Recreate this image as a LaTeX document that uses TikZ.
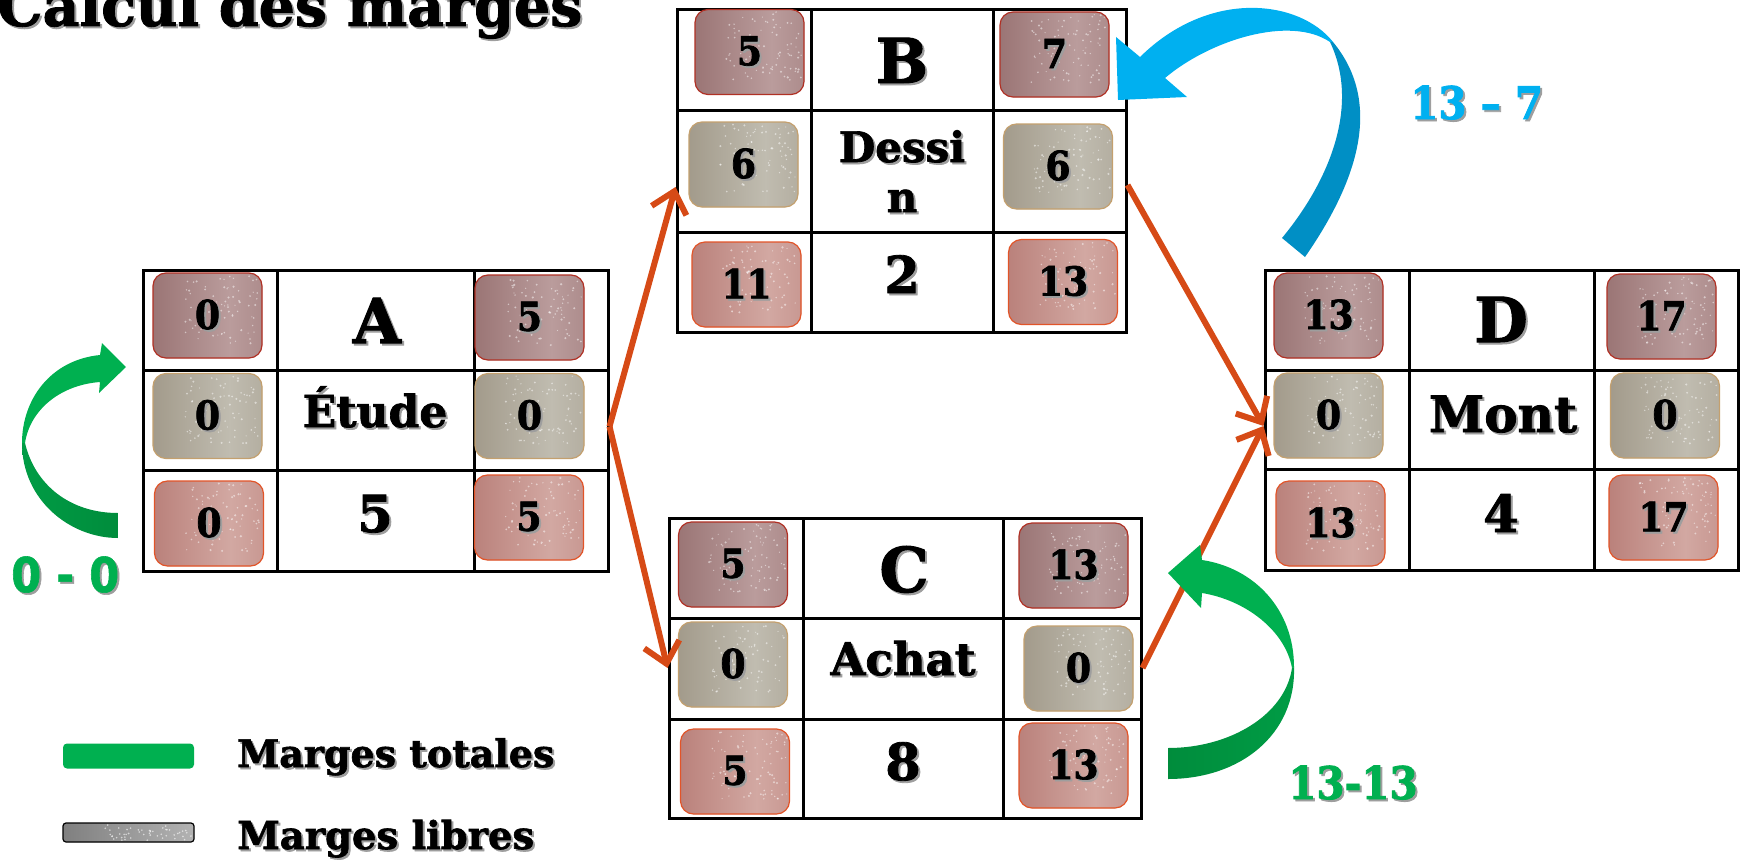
\documentclass[tikz,border=0pt]{standalone}
\usepackage{fontspec}
\setmainfont{DejaVu Serif}[BoldFeatures={FakeBold=1.6}]
\newfontfamily\condf{DejaVu Serif Condensed}[BoldFeatures={FakeBold=1.8}]
\newfontfamily\sanscf{DejaVu Sans Condensed}[BoldFeatures={FakeBold=1.2}]
\usetikzlibrary{arrows.meta,calc}
\definecolor{orng}{RGB}{214,74,22}
\definecolor{gLight}{RGB}{0,176,80}
\definecolor{gDark}{RGB}{0,140,60}
\definecolor{bLight}{RGB}{0,176,240}
\definecolor{bDark}{RGB}{0,143,197}
\definecolor{topBase}{RGB}{152,114,114}
\definecolor{topLite}{RGB}{186,156,156}
\definecolor{topEdge}{RGB}{176,48,36}
\definecolor{midBase}{RGB}{160,152,136}
\definecolor{midLite}{RGB}{192,188,176}
\definecolor{midEdge}{RGB}{196,160,110}
\definecolor{botBase}{RGB}{184,126,120}
\definecolor{botLite}{RGB}{210,168,162}
\definecolor{botEdge}{RGB}{226,84,40}
\pgfdeclarehorizontalshading{hT}{100bp}{color(0bp)=(topBase); color(22bp)=(topBase); color(60bp)=(topLite); color(100bp)=(topBase)}
\pgfdeclarehorizontalshading{hM}{100bp}{color(0bp)=(midBase); color(22bp)=(midBase); color(60bp)=(midLite); color(100bp)=(midBase)}
\pgfdeclarehorizontalshading{hB}{100bp}{color(0bp)=(botBase); color(22bp)=(botBase); color(60bp)=(botLite); color(100bp)=(botBase)}
\newcommand\shd[1]{\leavevmode\rlap{\kern2pt\raisebox{-2pt}{\color{black!38}#1}}#1}
\tikzset{
  badge/.style n args={3}{draw=#3, line width=1.2pt, fill=#1, rounded corners=13pt,
    minimum width=109pt, minimum height=85pt, inner sep=0pt,
    font=\condf\bfseries\fontsize{40}{42}\selectfont,
    path picture={
      \shade[shading=#2] (path picture bounding box.south west) rectangle (path picture bounding box.north east);
      \foreach \k in {1,...,80}{
        \pgfmathsetmacro\dx{14+38*rand}
        \pgfmathsetmacro\dy{6+34*rand}
        \pgfmathsetmacro\rr{0.6+0.6*rnd}
        \fill[white,opacity=0.5] ([xshift=\dx pt,yshift=\dy pt]path picture bounding box.center) circle (\rr pt);
      }
    }},
  tb/.style={badge={topBase}{hT}{topEdge}},
  mb/.style={badge={midBase}{hM}{midEdge}},
  bb/.style={badge={botBase}{hB}{botEdge}},
  tbl/.style={draw=black, line width=3pt, fill=white, inner sep=0pt},
  tline/.style={draw=black, line width=3pt},
  big/.style={anchor=base, inner sep=0pt, font=\bfseries\fontsize{62}{64}\selectfont},
  dur/.style={anchor=base, inner sep=0pt, font=\bfseries\fontsize{51}{52}\selectfont},
  nm/.style={anchor=base, inner sep=0pt, font=\bfseries\fontsize{#1}{#1}\selectfont},
  conn/.style={draw=orng, line width=6pt, -{Straight Barb[length=20pt,width=36pt]}},
}
\begin{document}
\begin{tikzpicture}[x=1pt,y=-1pt]
\pgfmathsetseed{7}
\useasboundingbox (0,0) rectangle (1744,859);
% title
\node[anchor=base west, inner sep=0pt, font=\bfseries\fontsize{57}{57}\selectfont] (title) at (-3,26) {\shd{Calcul des marges}};
% tables
\node[tbl, minimum width=465pt, minimum height=301pt] (A) at (375.5,420.5) {};
\draw[tline] (277,270) -- (277,571) (474,270) -- (474,571) (143,370) -- (608,370) (143,470) -- (608,470);
\node[tbl, minimum width=449pt, minimum height=322pt] (B) at (901.5,171) {};
\draw[tline] (811,10) -- (811,332) (993,10) -- (993,332) (677,110) -- (1126,110) (677,232) -- (1126,232);
\node[tbl, minimum width=472pt, minimum height=300pt] (C) at (905,668) {};
\draw[tline] (803,518) -- (803,818) (1003,518) -- (1003,818) (669,618) -- (1141,618) (669,719) -- (1141,719);
\node[tbl, minimum width=473pt, minimum height=300pt] (D) at (1501.5,420) {};
\draw[tline] (1409,270) -- (1409,570) (1594,270) -- (1594,570) (1265,370) -- (1738,370) (1265,469) -- (1738,469);
% badges A
\node[tb] (A1) at (207.5,315.5) {\shd{0}};
\node[tb] (A2) at (529.5,317.5) {\shd{5}};
\node[mb] (A3) at (207.5,416) {\shd{0}};
\node[mb] (A4) at (529.5,416) {\shd{0}};
\node[bb] (A5) at (209,523.5) {\shd{0}};
\node[bb] (A6) at (529,517.5) {\shd{5}};
% badges B
\node[tb] (B1) at (749.5,52) {\shd{5}};
\node[tb] (B2) at (1054.5,54.5) {\shd{7}};
\node[mb] (B3) at (743.5,164.5) {\shd{6}};
\node[mb] (B4) at (1058,166.5) {\shd{6}};
\node[bb] (B5) at (746.5,284.5) {\shd{11}};
\node[bb] (B6) at (1063,282) {\shd{13}};
% badges C
\node[tb] (C1) at (733,564.5) {\shd{5}};
\node[tb] (C2) at (1073.5,565.5) {\shd{13}};
\node[mb] (C3) at (733,664.5) {\shd{0}};
\node[mb] (C4) at (1078.5,668.5) {\shd{0}};
\node[bb] (C5) at (735,771.5) {\shd{5}};
\node[bb] (C6) at (1073.5,765.5) {\shd{13}};
% badges D
\node[tb] (D1) at (1328.5,315.5) {\shd{13}};
\node[tb] (D2) at (1661.5,316.5) {\shd{17}};
\node[mb] (D3) at (1328.5,415.5) {\shd{0}};
\node[mb] (D4) at (1665,415.5) {\shd{0}};
\node[bb] (D5) at (1330.5,523.5) {\shd{13}};
\node[bb] (D6) at (1663.5,517.5) {\shd{17}};
% centre texts
\node[big] (At) at (377,343) {\shd{A}};
\node[nm=44] (An) at (375,427) {\shd{Étude}};
\node[dur] (Ad) at (375,532) {\shd{5}};
\node[big] (Bt) at (902,83) {\shd{B}};
\node[nm=42] (Bn1) at (902,162) {\shd{Dessi}};
\node[nm=42] (Bn2) at (902,212) {\shd{n}};
\node[dur] (Bd) at (902,293) {\shd{2}};
\node[big] (Ct) at (904,592) {\shd{C}};
\node[nm=45] (Cn) at (903,675) {\shd{Achat}};
\node[dur] (Cd) at (903,780) {\shd{8}};
\node[big] (Dt) at (1501,342) {\shd{D}};
\node[nm=50] (Dn) at (1503,432) {\shd{Mont}};
\node[dur] (Dd) at (1501,532) {\shd{4}};
% connectors
\draw[conn] ($(A.east)+(0,6)$) -- ($(B.west)+(0,16)$);
\draw[conn] ($(A.east)+(0,6)$) -- (C.west);
\draw[conn] ($(B.east)+(0,14)$) -- ($(D.west)+(0,6)$);
\draw[conn] (C.east) -- ($(D.west)+(0,6)$);
% left green curved arrow
\fill[gLight] (22,443) .. controls (22,400) and (50,360) .. (100,355) -- (102,343) -- (126,367) -- (99,393) -- (100,382) .. controls (60,385) and (30,410) .. (25,443) -- cycle;
\shade[left color=gDark!55!gLight, right color=gDark] (22,443) .. controls (22,500) and (70,538) .. (118,538) -- (118,513) .. controls (70,513) and (35,485) .. (25,443) -- cycle;
% right green curved arrow
\fill[gLight] (1294,667) .. controls (1294,610) and (1255,568) .. (1202,560) -- (1200,545) -- (1168,573) -- (1201,608) -- (1202,593) .. controls (1245,600) and (1285,630) .. (1292,668) -- cycle;
\shade[right color=gDark!55!gLight, left color=gDark] (1294,667) .. controls (1296,735) and (1240,779) .. (1168,779) -- (1168,748) .. controls (1230,748) and (1285,715) .. (1292,668) -- cycle;
% blue curved arrow
\fill[bDark] (1305,257) .. controls (1355,185) and (1385,105) .. (1333,42) -- (1330,42) .. controls (1360,105) and (1330,180) .. (1282,238) -- cycle;
\fill[bLight] (1333,42) .. controls (1300,0) and (1210,-12) .. (1140,57) -- (1116,37) -- (1118,100) -- (1187,97) -- (1165,78) .. controls (1210,40) and (1290,15) .. (1330,42) -- cycle;
% labels
\node[anchor=base west, inner sep=0pt, text=gLight, font=\sanscf\bfseries\fontsize{48}{48}\selectfont] (l00) at (11,592) {\shd{0 - 0}};
\node[anchor=base west, inner sep=0pt, text=gLight, font=\condf\bfseries\fontsize{45}{45}\selectfont] (l1313) at (1288,799) {\shd{13-13}};
\node[anchor=base west, inner sep=0pt, text=bLight, font=\condf\bfseries\fontsize{45}{45}\selectfont] (l137) at (1410,119) {\shd{13 – 7}};
% legend
\node[fill=gLight, rounded corners=4pt, minimum width=131pt, minimum height=25pt, inner sep=0pt] (legG) at (128.5,756) {};
\node[anchor=base west, inner sep=0pt, font=\bfseries\fontsize{38}{38}\selectfont] (legGt) at (237,767) {\shd{Marges totales}};
\node[draw=black, line width=1.2pt, fill=black!48, rounded corners=3pt, minimum width=131pt, minimum height=19pt, inner sep=0pt,
  path picture={
    \shade[left color=black!50, right color=black!30] (path picture bounding box.south west) rectangle (path picture bounding box.north east);
    \foreach \k in {1,...,50}{
      \pgfmathsetmacro\dx{20+45*rand}
      \pgfmathsetmacro\dy{8*rand}
      \fill[white,opacity=0.6] ([xshift=\dx pt,yshift=\dy pt]path picture bounding box.center) circle (0.9pt);
    }}] (legL) at (128.5,832.5) {};
\node[anchor=base west, inner sep=0pt, font=\bfseries\fontsize{38.5}{38.5}\selectfont] (legLt) at (237,849) {\shd{Marges libres}};
\end{tikzpicture}
\end{document}
